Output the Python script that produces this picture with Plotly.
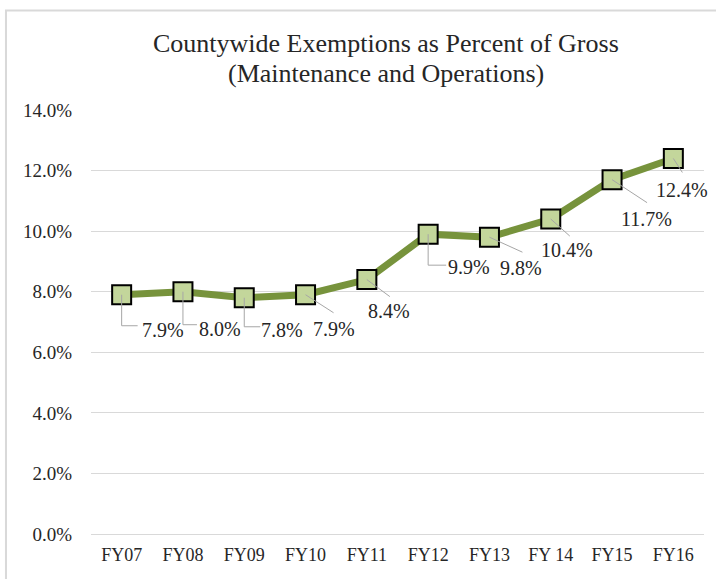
import plotly.graph_objects as go

# Fiscal years and exemption share of gross value (percent)
categories = ["FY07", "FY08", "FY09", "FY10", "FY11", "FY12", "FY13", "FY 14", "FY15", "FY16"]
values = [7.9, 8.0, 7.8, 7.9, 8.4, 9.9, 9.8, 10.4, 11.7, 12.4]
value_labels = ["7.9%", "8.0%", "7.8%", "7.9%", "8.4%", "9.9%", "9.8%", "10.4%", "11.7%", "12.4%"]
y_ticks = [0, 2, 4, 6, 8, 10, 12, 14]
y_tick_labels = ["0.0%", "2.0%", "4.0%", "6.0%", "8.0%", "10.0%", "12.0%", "14.0%"]
title_lines = ["Countywide Exemptions as Percent of Gross", "(Maintenance and Operations)"]

# Label placement: text offset (dx, dy in px, dy downward) and leader line path
label_offsets = [(41, 35), (37, 37), (38, 32), (28, 34), (22, 31),
                 (41, 33), (32, 31), (16, 31), (34, 39), (9, 32)]
leader_paths = [
    [(0, 0), (0, 31), (16, 31)],
    [(0, 0), (0, 33), (14, 33)],
    [(0, 0), (0, 29), (16, 29)],
    [(0, 0), (28, 18)],
    [(0, 0), (23, 17)],
    [(0, 0), (0, 31), (18, 31)],
    [(0, 0), (33, 15)],
    [(0, 0), (19, 17)],
    [(0, 0), (35, 23)],
    [(0, 0), (9, 14)],
]

FONT = "Liberation Serif"
xs = list(range(len(categories)))

fig = go.Figure()
fig.add_trace(go.Scatter(
    x=xs, y=values, mode="lines+markers",
    line=dict(color="#77933C", width=7),
    marker=dict(symbol="square", size=19, color="#C3D69B",
                line=dict(color="#000000", width=2)),
    hoverinfo="skip", showlegend=False,
))

shapes = []
annotations = []
for i, (v, lab, (dx, dy), pts) in enumerate(zip(values, value_labels, label_offsets, leader_paths)):
    path = "M " + " L ".join(f"{px} {-py}" for px, py in pts)
    shapes.append(dict(type="path", xref="x", yref="y",
                       xsizemode="pixel", ysizemode="pixel",
                       xanchor=i, yanchor=v, path=path,
                       line=dict(color="#A6A6A6", width=1), layer="above"))
    annotations.append(dict(x=i, y=v, xref="x", yref="y", text=lab,
                            showarrow=False, xshift=dx, yshift=-dy,
                            xanchor="center", yanchor="middle",
                            font=dict(family=FONT, size=20, color="#262626")))

# Outer chart border
shapes.append(dict(type="rect", xref="paper", yref="paper",
                   x0=-0.1387, x1=2, y0=-1, y1=1.2347,
                   line=dict(color="#D9D9D9", width=2), layer="below"))

# Two-line chart title
for line_text, py in zip(title_lines, [44, 73]):
    annotations.append(dict(
        x=(386 - 91) / 613, y=(534 - py) / 424, xref="paper", yref="paper",
        text=line_text, showarrow=False, xanchor="center", yanchor="middle",
        font=dict(family=FONT, size=26, color="#262626"),
    ))

fig.update_layout(
    width=716, height=579,
    margin=dict(l=91, r=12, t=110, b=45),
    paper_bgcolor="white", plot_bgcolor="white",
    shapes=shapes, annotations=annotations,
    xaxis=dict(range=[-0.5, 9.5], tickvals=xs, ticktext=categories,
               showgrid=False, zeroline=False, showline=False, ticks="",
               tickfont=dict(family=FONT, size=18, color="#262626"),
               ticklabelstandoff=8, fixedrange=True),
    yaxis=dict(range=[0, 14], tickvals=y_ticks, ticktext=y_tick_labels,
               showgrid=True, gridcolor="#D9D9D9", gridwidth=1,
               zeroline=True, zerolinecolor="#D9D9D9", zerolinewidth=1,
               showline=False, ticks="",
               tickfont=dict(family=FONT, size=19, color="#262626"),
               ticklabelstandoff=18, fixedrange=True),
)

fig.write_html("out.html")
